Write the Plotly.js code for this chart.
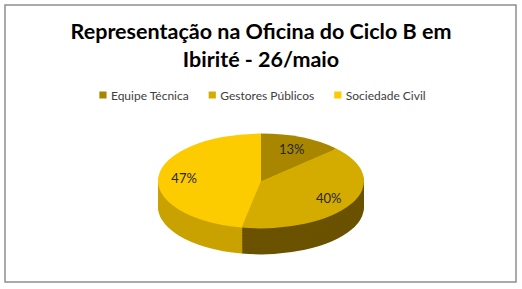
<!DOCTYPE html>
<html><head><meta charset="utf-8">
<script src="https://cdn.plot.ly/plotly-3.0.1.min.js"></script>
<style>html,body{margin:0;padding:0;background:#fff;overflow:hidden}#chart{width:522px;height:289px}</style>
</head><body><div id="chart"></div>
<script>
// ---- data ----
const categories = ['Equipe Técnica', 'Gestores Públicos', 'Sociedade Civil'];
const values = [13, 40, 47];
const topColors = ['#A88600', '#D4AC00', '#FCCC00'];
const sideColors = ['#6E5600', '#6A5200', '#C9A200'];
const titleText = 'Representação na Oficina do Ciclo B em<br>Ibirité - 26/maio';

// ---- geometry of the tilted pie ----
const W = 522, H = 289;
const cx = 261, R = 103;          // pie radius in px
const tilt = 0.46;                // vertical squash of the pie face
const cyTop = 181;                // centre of the top face after squash
const depth = 26;                 // thickness of the pie
const layers = 14;
const labelRadius = 0.75;         // label distance from centre, fraction of R
const FONT = 'Lato, "Open Sans", sans-serif';

const domain = { x: [(cx - R) / W, (cx + R) / W], y: [(H / 2 - R) / H, (H / 2 + R) / H] };
const traces = [];
for (let k = 0; k < layers; k++) {
  traces.push({
    type: 'pie', labels: categories, values: values, sort: false,
    direction: 'clockwise', rotation: 0, domain: domain,
    marker: { colors: sideColors, line: { width: 0 } },
    textinfo: 'none', hoverinfo: 'skip', showlegend: false
  });
}
traces.push({
  type: 'pie', labels: categories, values: values, sort: false,
  direction: 'clockwise', rotation: 0, domain: domain,
  marker: { colors: topColors, line: { width: 0 } },
  textinfo: 'percent', textposition: 'inside', insidetextorientation: 'horizontal',
  textfont: { family: FONT, size: 13, color: '#262626' },
  hoverinfo: 'skip', showlegend: true
});

const layout = {
  width: W, height: H,
  margin: { l: 0, r: 0, t: 0, b: 0 },
  paper_bgcolor: '#ffffff',
  font: { family: FONT, color: '#404040' },
  title: {
    text: titleText, x: 0.5, xanchor: 'center', y: 1 - 39 / H, yanchor: 'top',
    font: { family: FONT, size: 21.5, color: '#000000', weight: 'bold' }
  },
  showlegend: true,
  legend: {
    orientation: 'h', x: 0.5, xanchor: 'center', y: 1 - 95 / H, yanchor: 'middle',
    font: { family: FONT, size: 12, color: '#404040' }, traceorder: 'normal'
  },
  shapes: [{
    type: 'rect', xref: 'paper', yref: 'paper',
    x0: 5 / W, x1: 516 / W, y0: 1 - 282 / H, y1: 1 - 5 / H,
    line: { color: '#8f8f8f', width: 1.5 }
  }]
};

function parseT(el) {
  const m = /translate\(\s*([-\d.e]+)[ ,]+([-\d.e]+)\s*\)/.exec(el.getAttribute('transform') || '');
  return m ? [parseFloat(m[1]), parseFloat(m[2])] : [0, 0];
}

const gd = document.getElementById('chart');
Plotly.newPlot(gd, traces, layout, { staticPlot: true, displayModeBar: false }).then(function () {
  const pieCy = H / 2;
  const groups = gd.querySelectorAll('.pielayer .trace');
  groups.forEach(function (g, i) {
    const dy = i < layers ? depth * (layers - i) / layers : 0;
    const T = cyTop + dy - tilt * pieCy;
    const ex = g.getAttribute('transform') || '';
    g.setAttribute('transform', 'translate(0,' + T + ') scale(1,' + tilt + ') ' + ex);
    g.querySelectorAll('g.slicetext text').forEach(function (t) {
      const bb = t.getBBox();
      const lx = bb.x + bb.width / 2, ly = bb.y + bb.height / 2;
      const tl = t.transform.baseVal.consolidate();
      let px = lx, py = ly;
      if (tl) { const m = tl.matrix; px = m.a * lx + m.c * ly + m.e; py = m.b * lx + m.d * ly + m.f; }
      const ang = Math.atan2(py - pieCy, px - cx);
      const nx = cx + labelRadius * R * Math.cos(ang), ny = pieCy + labelRadius * R * Math.sin(ang);
      const et = t.getAttribute('transform') || '';
      t.setAttribute('transform', 'translate(' + (nx - px) + ',' + (ny - py) + ') ' + et +
        ' translate(0,' + ly + ') scale(1,' + (1 / tilt) + ') translate(0,' + (-ly) + ')');
    });
  });
  // legend: small square swatches, tight spacing
  const items = Array.from(gd.querySelectorAll('.legend g.traces'));
  const symShift = 12, symScale = 0.6, symHalf = 6 * symScale, gapAfterText = 20;
  items.forEach(function (it) {
    it.querySelectorAll('.legendpoints path').forEach(function (p) {
      const et = p.getAttribute('transform') || '';
      p.setAttribute('transform', et + ' translate(' + symShift + ',0) scale(' + symScale + ')');
    });
  });
  let x = parseT(items[0])[0];
  items.forEach(function (it) {
    const tEl = it.querySelector('text.legendtext');
    const tx = parseFloat(tEl.getAttribute('x')) || 40;
    const tw = tEl.getComputedTextLength();
    const y = parseT(it)[1];
    it.setAttribute('transform', 'translate(' + x + ',' + y + ')');
    x = x + tx + tw + gapAfterText - (20 + symShift - symHalf);
  });
  const first = items[0].querySelector('.legendpoints path').getBoundingClientRect();
  const last = items[items.length - 1].querySelector('text.legendtext').getBoundingClientRect();
  const shift = 262.5 - (first.left + last.right) / 2;
  items.forEach(function (it) {
    const p = parseT(it);
    it.setAttribute('transform', 'translate(' + (p[0] + shift) + ',' + p[1] + ')');
  });
});
</script>
</body></html>
